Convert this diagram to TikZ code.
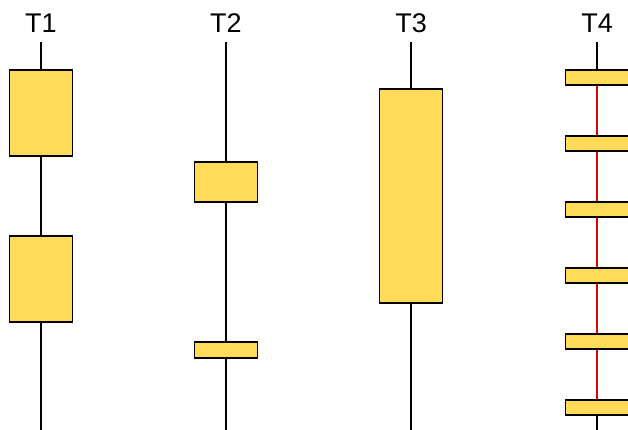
\documentclass[tikz,border=0pt]{standalone}
\usepackage{fontspec}
\setmainfont{Liberation Sans}
\definecolor{boxfill}{RGB}{255,219,88}
\definecolor{linered}{RGB}{225,0,0}
\begin{document}
\begin{tikzpicture}[x=1pt,y=-1pt,
  bar/.style={draw=black,line width=1.6pt,fill=boxfill,rectangle,inner sep=0pt,minimum width=63pt},
  wire/.style={line width=1.6pt,black},
  redwire/.style={line width=1.6pt,linered},
  lbl/.style={font=\fontsize{27}{30}\selectfont,inner sep=0pt,anchor=base}]
\useasboundingbox (0,0) rectangle (628,429);
\clip (0,0) rectangle (628,429);
% labels
\node[lbl] (l1) at (41,32) {T1};
\node[lbl] (l2) at (226,32) {T2};
\node[lbl] (l3) at (411,32) {T3};
\node[lbl] (l4) at (597,32) {T4};
% T1
\coordinate (t1top) at (41,42);
\coordinate (t1bot) at (41,431);
\node[bar,minimum height=86pt] (a1) at (41,113) {};
\node[bar,minimum height=86pt] (a2) at (41,279) {};
\draw[wire] (t1top) -- (a1.north) (a1.south) -- (a2.north) (a2.south) -- (t1bot);
% T2
\coordinate (t2top) at (226,42);
\coordinate (t2bot) at (226,431);
\node[bar,minimum height=40pt] (b1) at (226,182) {};
\node[bar,minimum height=16pt] (b2) at (226,350) {};
\draw[wire] (t2top) -- (b1.north) (b1.south) -- (b2.north) (b2.south) -- (t2bot);
% T3
\coordinate (t3top) at (411,42);
\coordinate (t3bot) at (411,431);
\node[bar,minimum height=214pt] (c1) at (411,196) {};
\draw[wire] (t3top) -- (c1.north) (c1.south) -- (t3bot);
% T4
\coordinate (t4top) at (597,42);
\coordinate (t4bot) at (597,431);
\node[bar,minimum height=15pt] (d1) at (597,77.5) {};
\node[bar,minimum height=15pt] (d2) at (597,143.5) {};
\node[bar,minimum height=15pt] (d3) at (597,209.5) {};
\node[bar,minimum height=15pt] (d4) at (597,275.5) {};
\node[bar,minimum height=15pt] (d5) at (597,341.5) {};
\node[bar,minimum height=15pt] (d6) at (597,407.5) {};
\draw[wire] (t4top) -- (d1.north) (d6.south) -- (t4bot);
\draw[redwire] (d1.south) -- (d2.north) (d2.south) -- (d3.north) (d3.south) -- (d4.north)
  (d4.south) -- (d5.north) (d5.south) -- (d6.north);
\end{tikzpicture}
\end{document}
